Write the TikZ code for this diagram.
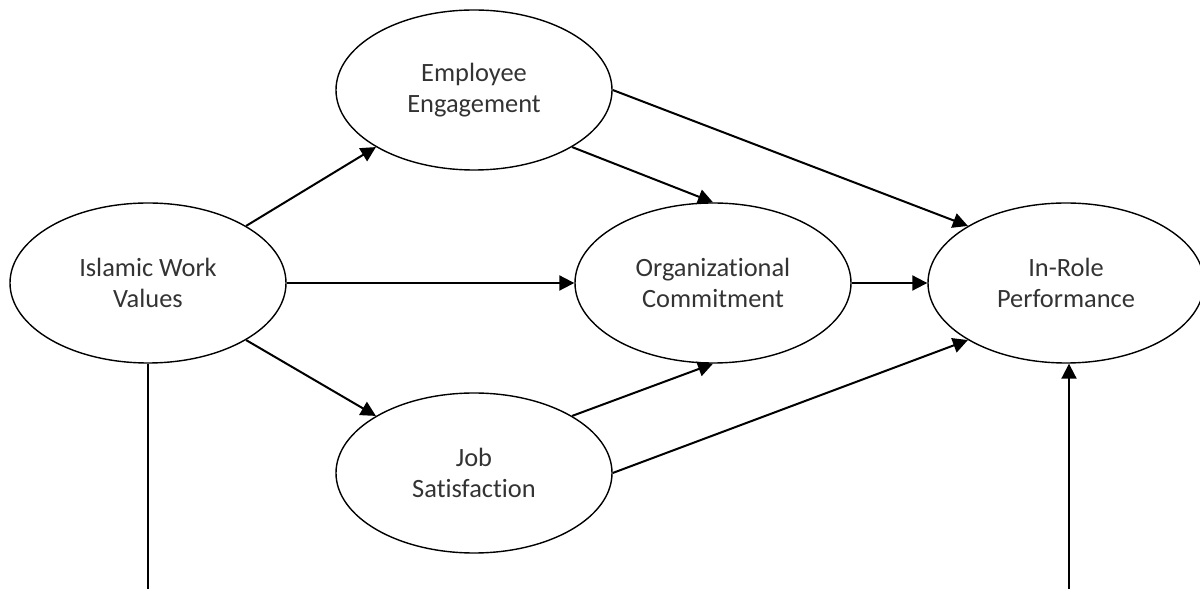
\documentclass[tikz,border=0pt]{standalone}
\usepackage{fontspec}
\setmainfont{Carlito}[Ligatures=NoCommon]
\usetikzlibrary{shapes.geometric,arrows.meta}

\begin{document}
\begin{tikzpicture}[x=50pt,y=50pt,
    construct/.style={ellipse, draw, line width=0.7pt, minimum width=138pt, minimum height=80pt,
        inner sep=0pt, align=center, text=black!80, font=\fontsize{13.2}{15.8}\selectfont},
    link/.style={line width=1pt, -{Triangle[length=7.5pt,width=7.5pt]}},
    plain/.style={line width=1pt}]
    \useasboundingbox (0,0) rectangle (12,5.89);
    \coordinate (base) at (0,0);

    % Constructs
    \node[construct] (iwv) at (1.48,3.06) {Islamic Work\\Values};
    \node[construct] (ee) at (4.74,4.99) {Employee\\Engagement};
    \node[construct] (oc) at (7.13,3.06) {Organizational\\Commitment};
    \node[construct] (js) at (4.74,1.16) {Job\\Satisfaction};
    \node[construct] (irp) at (10.66,3.06) {In-Role\\Performance};

    % Loose ends running off the bottom
    \coordinate (iwvfoot) at (iwv.south |- base);
    \coordinate (irpfoot) at ([xshift=1.5pt]irp.south |- base);

    % Paths
    \draw[link] (iwv.north east) -- (ee.south west);
    \draw[link] (iwv.east) -- (oc.west);
    \draw[link] (iwv.south east) -- (js.north west);
    \draw[link] (ee.south east) -- (oc.north);
    \draw[link] (ee.east) -- (irp.north west);
    \draw[link] (js.north east) -- (oc.south);
    \draw[link] (js.east) -- (irp.south west);
    \draw[link] (oc.east) -- (irp.west);

    % Vertical lines
    \draw[plain] (iwv.south) -- (iwvfoot);
    \draw[link] (irpfoot) -- ([xshift=1.5pt]irp.south);
\end{tikzpicture}
\end{document}
